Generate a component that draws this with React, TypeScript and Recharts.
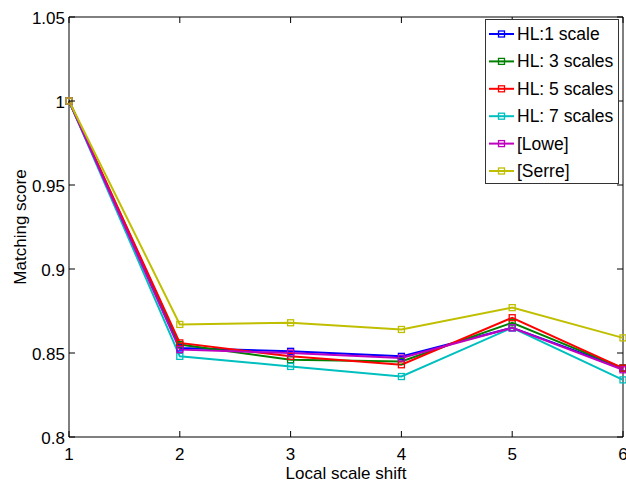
import React from 'react';
import { LineChart, Line, XAxis, YAxis, ReferenceLine, Legend } from 'recharts';

const shifts = [1, 2, 3, 4, 5, 6];
const hl1 = [1, 0.853, 0.851, 0.848, 0.865, 0.841];
const hl3 = [1, 0.855, 0.846, 0.845, 0.868, 0.841];
const hl5 = [1, 0.856, 0.848, 0.843, 0.871, 0.841];
const hl7 = [1, 0.848, 0.842, 0.836, 0.865, 0.834];
const lowe = [1, 0.852, 0.85, 0.847, 0.865, 0.84];
const serre = [1, 0.867, 0.868, 0.864, 0.877, 0.859];

const xTicks = [1, 2, 3, 4, 5, 6];
const yTicks = [0.8, 0.85, 0.9, 0.95, 1, 1.05];

const series = [
  { key: 'hl1', name: 'HL:1 scale', color: '#0000ff', values: hl1 },
  { key: 'hl3', name: 'HL: 3 scales', color: '#008000', values: hl3 },
  { key: 'hl5', name: 'HL: 5 scales', color: '#ff0000', values: hl5 },
  { key: 'hl7', name: 'HL: 7 scales', color: '#00bfbf', values: hl7 },
  { key: 'lowe', name: '[Lowe]', color: '#bf00bf', values: lowe },
  { key: 'serre', name: '[Serre]', color: '#bfbf00', values: serre },
];

const data = shifts.map((s, i) => {
  const row: any = { shift: s };
  series.forEach((se) => {
    row[se.key] = se.values[i];
  });
  return row;
});

const W = 626;
const H = 484;
const LEFT = 69;
const TOP = 17;
const RIGHT = 623;
const BOTTOM = 437;
const FONT = '"Liberation Sans", Arial, Helvetica, sans-serif';

const XTick = (props: any) => {
  const { x, payload } = props;
  return (
    <g>
      <line x1={x} x2={x} y1={BOTTOM} y2={BOTTOM - 6} stroke="#000" />
      <line x1={x} x2={x} y1={TOP} y2={TOP + 6} stroke="#000" />
      <text x={x} y={460} textAnchor="middle" fontSize={17} fontFamily={FONT} fill="#000">
        {String(payload.value)}
      </text>
    </g>
  );
};

const YTick = (props: any) => {
  const { y, payload } = props;
  return (
    <g>
      <line x1={LEFT} x2={LEFT + 6} y1={y} y2={y} stroke="#000" />
      <line x1={RIGHT} x2={RIGHT - 6} y1={y} y2={y} stroke="#000" />
      <text x={65} y={y + 7} textAnchor="end" fontSize={17} fontFamily={FONT} fill="#000">
        {String(payload.value)}
      </text>
    </g>
  );
};

const SquareDot = (color: string) => (props: any) => {
  const { cx, cy, index } = props;
  if (cx == null || cy == null) return <g key={index} />;
  return (
    <rect key={index} x={cx - 3} y={cy - 3} width={6} height={6} fill="none" stroke={color} strokeWidth={1.3} />
  );
};

const LegendBox = () => {
  const w = 133;
  const h = 164;
  return (
    <svg width={w + 2} height={h + 2} style={{ display: 'block' }}>
      <rect x={0.5} y={0.5} width={w} height={h} fill="#fff" stroke="#333" />
      {series.map((s, i) => {
        const cy = 15 + i * 27.4;
        return (
          <g key={s.key}>
            <line x1={4} x2={29} y1={cy} y2={cy} stroke={s.color} strokeWidth={2} />
            <rect x={13.5} y={cy - 3} width={6} height={6} fill="none" stroke={s.color} strokeWidth={1.3} />
            <text x={32} y={cy + 6} fontSize={17.5} fontFamily={FONT} fill="#000">
              {s.name}
            </text>
          </g>
        );
      })}
    </svg>
  );
};

export default function App() {
  return (
    <div style={{ position: 'absolute', left: 0, top: 0, width: W, height: H, background: '#fff' }}>
      <LineChart
        width={W}
        height={H}
        data={data}
        margin={{ top: TOP, right: W - RIGHT, bottom: 0, left: 0 }}
      >
        <XAxis
          dataKey="shift"
          type="number"
          domain={[1, 6]}
          ticks={xTicks}
          height={H - BOTTOM}
          axisLine={{ stroke: '#000' }}
          tickLine={false}
          tickSize={0}
          tick={<XTick />}
          interval={0}
          label={{
            content: () => (
              <text x={(LEFT + RIGHT) / 2} y={479} textAnchor="middle" fontSize={17} fontFamily={FONT} fill="#000">
                Local scale shift
              </text>
            ),
          }}
        />
        <YAxis
          type="number"
          domain={[0.8, 1.05]}
          ticks={yTicks}
          width={LEFT}
          axisLine={{ stroke: '#000' }}
          tickLine={false}
          tickSize={0}
          tick={<YTick />}
          interval={0}
          allowDataOverflow
          label={{
            content: () => (
              <text
                x={26}
                y={(TOP + BOTTOM) / 2}
                textAnchor="middle"
                fontSize={17}
                fontFamily={FONT}
                fill="#000"
                transform={`rotate(-90 26 ${(TOP + BOTTOM) / 2})`}
              >
                Matching score
              </text>
            ),
          }}
        />
        <ReferenceLine y={1.05} stroke="#000" ifOverflow="visible" />
        <ReferenceLine x={6} stroke="#000" ifOverflow="visible" />
        {series.map((s) => (
          <Line
            key={s.key}
            dataKey={s.key}
            name={s.name}
            stroke={s.color}
            strokeWidth={2}
            dot={SquareDot(s.color)}
            activeDot={false}
            isAnimationActive={false}
          />
        ))}
        <Legend
          layout="vertical"
          align="center"
          verticalAlign="middle"
          content={() => <LegendBox />}
          wrapperStyle={{ position: 'absolute', left: 485, top: 19, width: 135, height: 166 }}
        />
      </LineChart>
    </div>
  );
}
